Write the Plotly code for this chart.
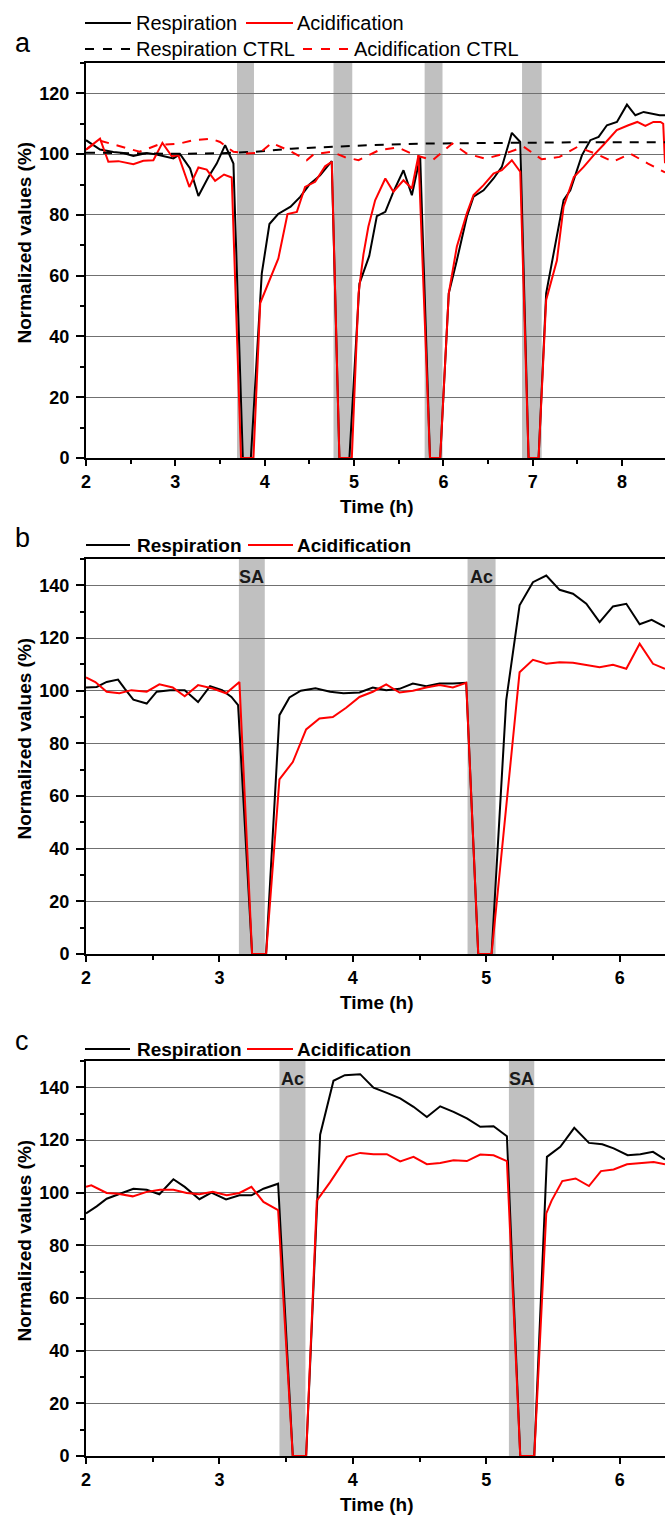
import plotly.graph_objects as go

W, H = 665, 1516
FONT = "Liberation Sans, Arial, sans-serif"

# ---------------- Panel a data ----------------
a_t_resp = [2.0, 2.157, 2.306, 2.418, 2.53, 2.68, 2.79, 2.9, 2.978, 3.053,
            3.165, 3.258, 3.37, 3.463, 3.557, 3.65, 3.755, 3.845, 3.967, 4.053,
            4.15, 4.29, 4.4, 4.5, 4.62, 4.75, 4.836, 4.948, 5.06, 5.17,
            5.255, 5.35, 5.44, 5.553, 5.647, 5.74, 5.85, 5.964, 6.06, 6.15,
            6.262, 6.337, 6.449, 6.561, 6.654, 6.766, 6.86, 6.953, 7.065, 7.15,
            7.27, 7.345, 7.42, 7.494, 7.55, 7.644, 7.737, 7.83, 7.942, 8.054,
            8.148, 8.241, 8.334, 8.42, 8.48]
a_resp = [104.6, 101.5, 100.7, 100.4, 99.4, 100.4, 99.9, 99.1, 98.6, 100.0,
          95.3, 86.2, 92.5, 96.9, 103.0, 96.9, 0, 0, 60.7, 77.0,
          80.3, 82.7, 86.0, 90.0, 93.0, 97.7, 0, 0, 57.4, 66.5,
          79.6, 81.0, 87.6, 94.7, 86.5, 99.2, 0, 0, 54.2, 65.0,
          79.4, 86.0, 88.1, 92.0, 95.8, 107.0, 104.0, 0, 0, 54.2,
          73.9, 84.9, 88.1, 94.7, 99.6, 104.6, 105.7, 109.5, 110.6, 116.3,
          112.8, 113.9, 113.4, 112.8, 112.8]
a_t_acid = [2.0, 2.157, 2.25, 2.362, 2.53, 2.642, 2.754, 2.855, 2.96, 3.034,
            3.157, 3.258, 3.351, 3.445, 3.545, 3.631, 3.735, 3.874, 3.95, 4.153,
            4.255, 4.36, 4.452, 4.565, 4.676, 4.751, 4.836, 4.975, 5.05, 5.105,
            5.16, 5.236, 5.35, 5.44, 5.553, 5.647, 5.721, 5.85, 5.964, 6.06,
            6.15, 6.262, 6.337, 6.449, 6.561, 6.654, 6.766, 6.86, 6.953, 7.065,
            7.15, 7.27, 7.345, 7.46, 7.57, 7.68, 7.79, 7.94, 8.07, 8.17,
            8.26, 8.35, 8.43, 8.46, 8.48]
a_acid = [101.5, 105.1, 97.5, 97.7, 96.7, 97.8, 98.0, 103.7, 99.3, 99.6,
          89.2, 95.6, 94.9, 91.2, 93.3, 92.3, 0, 0, 51.0, 65.7,
          80.3, 81.0, 89.2, 90.9, 96.0, 97.5, 0, 0, 54.1, 67.0,
          76.1, 84.8, 92.0, 87.6, 91.4, 88.7, 99.6, 0, 0, 54.2,
          69.5, 80.5, 86.5, 89.8, 93.6, 94.7, 98.0, 94.2, 0, 0,
          52.0, 65.0, 82.7, 92.5, 95.8, 99.6, 103.0, 107.9, 109.5, 110.6,
          109.3, 110.6, 110.6, 110.0, 97.0]
a_t_rctrl = [2.0, 2.5, 3.0, 3.5, 3.9, 4.3, 4.75, 5.2, 5.8, 6.5, 7.5, 8.48]
a_rctrl = [100.5, 100.2, 100.1, 100.3, 100.8, 101.8, 102.4, 103.0, 103.5, 103.7, 103.9, 103.9]
a_t_actrl = [2.0, 2.15, 2.27, 2.49, 2.6, 2.8, 3.05, 3.2, 3.4, 3.5,
             3.65, 3.8, 3.95, 4.08, 4.3, 4.47, 4.55, 4.75, 4.9, 5.05,
             5.28, 5.49, 5.69, 5.88, 6.1, 6.26, 6.47, 6.69, 6.9, 7.1,
             7.3, 7.5, 7.7, 7.9, 8.09, 8.29, 8.48]
a_actrl = [101.5, 104.5, 103.5, 101.8, 100.8, 103.0, 103.5, 104.6, 105.1, 104.0,
           100.8, 100.2, 100.5, 103.7, 100.8, 98.0, 100.0, 100.8, 99.0, 98.0,
           101.3, 102.2, 99.6, 98.0, 103.5, 100.2, 98.5, 100.2, 102.4, 98.3,
           99.1, 102.4, 100.2, 97.5, 100.2, 96.9, 94.0]
a_band_start = [3.69, 4.77, 5.79, 6.88]
a_band_end = [3.88, 4.98, 5.99, 7.10]

# ---------------- Panel b data ----------------
b_t_resp = [2.0, 2.08, 2.155, 2.24, 2.29, 2.355, 2.455, 2.53, 2.63, 2.74,
            2.84, 2.93, 3.02, 3.09, 3.14, 3.245, 3.35, 3.45, 3.525, 3.61,
            3.72, 3.83, 3.93, 4.05, 4.15, 4.25, 4.35, 4.45, 4.55, 4.65,
            4.75, 4.85, 4.94, 5.04, 5.15, 5.25, 5.35, 5.45, 5.55, 5.65,
            5.75, 5.85, 5.95, 6.05, 6.15, 6.24, 6.34]
b_resp = [101.2, 101.4, 103.3, 104.2, 100.8, 96.6, 95.1, 99.6, 100.2, 100.2,
          95.7, 101.7, 100.2, 97.6, 94.5, 0, 0, 90.7, 97.4, 100.0,
          100.9, 99.6, 99.0, 99.3, 101.2, 100.2, 100.7, 102.7, 101.7, 102.7,
          102.7, 103.0, 0, 0, 96.4, 132.4, 141.2, 143.7, 138.3, 136.8,
          133.0, 126.0, 132.0, 133.0, 125.2, 126.9, 124.2]
b_t_acid = [2.0, 2.07, 2.155, 2.25, 2.34, 2.455, 2.55, 2.65, 2.74, 2.84,
            2.95, 3.05, 3.15, 3.245, 3.35, 3.45, 3.55, 3.65, 3.75, 3.85,
            3.95, 4.05, 4.15, 4.25, 4.35, 4.45, 4.55, 4.65, 4.75, 4.85,
            4.94, 5.04, 5.25, 5.35, 5.45, 5.55, 5.65, 5.75, 5.85, 5.95,
            6.05, 6.15, 6.25, 6.34]
b_acid = [105.0, 103.3, 99.6, 99.0, 100.2, 99.6, 102.4, 101.2, 97.9, 102.1,
          100.8, 99.0, 103.3, 0, 0, 66.3, 72.9, 85.3, 89.4, 90.0,
          93.5, 97.6, 99.6, 102.4, 99.3, 100.0, 101.2, 102.1, 101.2, 103.0,
          0, 0, 107.0, 111.7, 110.2, 110.8, 110.6, 109.8, 108.9, 109.8,
          108.3, 117.8, 110.2, 108.3]
b_band_start = [3.146, 4.86]
b_band_end = [3.34, 5.07]
b_band_labels = ["SA", "Ac"]

# ---------------- Panel c data ----------------
c_t_resp = [2.0, 2.08, 2.155, 2.255, 2.355, 2.455, 2.55, 2.655, 2.74, 2.85,
            2.94, 3.05, 3.15, 3.24, 3.33, 3.44, 3.55, 3.65, 3.755, 3.855,
            3.94, 4.055, 4.155, 4.255, 4.355, 4.455, 4.555, 4.655, 4.755, 4.855,
            4.955, 5.055, 5.155, 5.255, 5.36, 5.455, 5.555, 5.66, 5.77, 5.87,
            5.955, 6.06, 6.155, 6.25, 6.34]
c_resp = [92.1, 94.8, 97.7, 99.6, 101.5, 101.1, 99.4, 105.1, 102.2, 97.5,
          100.0, 97.4, 99.0, 99.0, 101.5, 103.4, 0, 0, 122.0, 142.5,
          144.6, 145.0, 139.9, 137.9, 135.8, 132.6, 128.7, 132.8, 130.7, 128.2,
          125.0, 125.2, 121.4, 0, 0, 113.6, 117.4, 124.6, 118.9, 118.4,
          116.8, 114.2, 114.6, 115.5, 112.6]
c_t_acid = [2.0, 2.04, 2.155, 2.24, 2.35, 2.455, 2.555, 2.655, 2.755, 2.85,
            2.95, 3.055, 3.15, 3.24, 3.33, 3.44, 3.55, 3.65, 3.73, 3.83,
            3.955, 4.055, 4.155, 4.255, 4.355, 4.455, 4.555, 4.655, 4.755, 4.855,
            4.955, 5.055, 5.155, 5.255, 5.36, 5.45, 5.49, 5.57, 5.67, 5.77,
            5.86, 5.955, 6.055, 6.155, 6.255, 6.34]
c_acid = [102.2, 102.8, 99.9, 99.6, 98.6, 100.3, 101.1, 101.1, 99.9, 99.4,
          100.3, 99.0, 99.9, 102.2, 96.5, 93.4, 0, 0, 97.0, 104.0,
          113.6, 115.1, 114.6, 114.6, 111.9, 113.6, 110.8, 111.3, 112.3, 112.0,
          114.5, 114.2, 112.0, 0, 0, 92.1, 97.0, 104.4, 105.4, 102.5,
          108.2, 108.8, 110.8, 111.1, 111.6, 110.8]
c_band_start = [3.45, 5.17]
c_band_end = [3.645, 5.36]
c_band_labels = ["Ac", "SA"]

# ---------------- Text ----------------
series_names = ["Respiration", "Acidification", "Respiration CTRL", "Acidification CTRL"]
panel_letters = ["a", "b", "c"]
x_title = "Time (h)"
y_title = "Normalized values (%)"

BLACK = "#000000"
RED = "#ff0000"
BAND = "#c0c0c0"
GRID = "#707070"


def fx(p):
    return p / W


def fy(p):
    return 1 - p / H


panels = [
    dict(top=63, bottom=458, xmax=8.48, ymax=130,
         series=[(a_t_resp, a_resp, BLACK, "solid", series_names[0]),
                 (a_t_acid, a_acid, RED, "solid", series_names[1]),
                 (a_t_rctrl, a_rctrl, BLACK, "9px,8px", series_names[2]),
                 (a_t_actrl, a_actrl, RED, "9px,8px", series_names[3])],
         bands=list(zip(a_band_start, a_band_end)), band_labels=None),
    dict(top=559, bottom=954, xmax=6.34, ymax=150,
         series=[(b_t_resp, b_resp, BLACK, "solid", series_names[0]),
                 (b_t_acid, b_acid, RED, "solid", series_names[1])],
         bands=list(zip(b_band_start, b_band_end)), band_labels=b_band_labels),
    dict(top=1061, bottom=1456, xmax=6.34, ymax=150,
         series=[(c_t_resp, c_resp, BLACK, "solid", series_names[0]),
                 (c_t_acid, c_acid, RED, "solid", series_names[1])],
         bands=list(zip(c_band_start, c_band_end)), band_labels=c_band_labels),
]

fig = go.Figure()
layout = dict(template="none", width=W, height=H,
              margin=dict(l=0, r=0, t=0, b=0, pad=0, autoexpand=False),
              paper_bgcolor="white", plot_bgcolor="white", showlegend=False,
              font=dict(family=FONT, color="black"))
shapes = []
annotations = []

tickfont = dict(family=FONT, size=18, color="black", weight="bold")

for i, p in enumerate(panels):
    sfx = "" if i == 0 else str(i + 1)
    xa, ya = "x" + sfx, "y" + sfx
    layout["xaxis" + sfx] = dict(
        domain=[fx(86), 1.0], range=[2, p["xmax"]], anchor=ya, automargin=False,
        tick0=2, dtick=1, ticks="outside", ticklen=6, tickwidth=2, tickcolor="black",
        showline=True, linecolor="black", linewidth=2, mirror=True,
        showgrid=False, zeroline=False, tickfont=tickfont,
        minor=dict(dtick=0.5, ticks="outside", ticklen=4, tickwidth=1.5,
                   tickcolor="black", showgrid=False),
    )
    layout["yaxis" + sfx] = dict(
        domain=[fy(p["bottom"]), fy(p["top"])], range=[0, p["ymax"]], anchor=xa,
        automargin=False,
        tick0=0, dtick=20, ticks="outside", ticklen=8, tickwidth=2, tickcolor="black",
        showline=True, linecolor="black", linewidth=2, mirror=False,
        showgrid=True, gridcolor=GRID, gridwidth=1, zeroline=False,
        tickfont=tickfont, ticklabelstandoff=3,
        minor=dict(dtick=10, ticks="outside", ticklen=4, tickwidth=1.5,
                   tickcolor="black", showgrid=False),
    )
    for (t, v, col, dash, name) in p["series"]:
        assert len(t) == len(v), name
        fig.add_trace(go.Scatter(x=t, y=v, mode="lines", name=name,
                                 line=dict(color=col, width=2, dash=dash),
                                 xaxis=xa, yaxis=ya, showlegend=False))
    for j, (x0, x1) in enumerate(p["bands"]):
        shapes.append(dict(type="rect", xref=xa, yref=ya + " domain",
                           x0=x0, x1=x1, y0=0, y1=1, fillcolor=BAND,
                           line=dict(width=0), layer="below"))
        if p["band_labels"]:
            annotations.append(dict(text=p["band_labels"][j], xref=xa, yref=ya,
                                    x=(x0 + x1) / 2, y=143, showarrow=False,
                                    xanchor="center", yanchor="middle",
                                    font=dict(family=FONT, size=18, color="#1a1a1a",
                                              weight="bold")))
    # axis titles
    annotations.append(dict(text=x_title, xref="paper", yref="paper",
                            x=fx(377), y=fy(p["bottom"] + 48), showarrow=False,
                            xanchor="center", yanchor="middle",
                            font=dict(family=FONT, size=19, color="black", weight="bold")))
    annotations.append(dict(text=y_title, xref="paper", yref="paper",
                            x=fx(24), y=fy((p["top"] + p["bottom"]) / 2 - 18),
                            showarrow=False, textangle=-90,
                            xanchor="center", yanchor="middle",
                            font=dict(family=FONT, size=19, color="black", weight="bold")))
    # panel letter
    letter_y = [43, 538, 1041][i]
    annotations.append(dict(text=panel_letters[i], xref="paper", yref="paper",
                            x=fx(13), y=fy(letter_y), showarrow=False,
                            xanchor="left", yanchor="middle",
                            font=dict(family=FONT, size=27, color="black")))

# ---------------- legends (keys drawn as short lines) ----------------
legend_rows = [
    (23, [(85, 131, BLACK, "solid", 134, series_names[0], "normal"),
          (246, 293, RED, "solid", 295, series_names[1], "normal")]),
    (49, [(85, 131, BLACK, "dash", 134, series_names[2], "normal"),
          (303, 350, RED, "dash", 352, series_names[3], "normal")]),
    (545, [(86, 130, BLACK, "solid", 135, series_names[0], "bold"),
           (248, 293, RED, "solid", 295, series_names[1], "bold")]),
    (1049, [(85, 130, BLACK, "solid", 135, series_names[0], "bold"),
            (247, 293, RED, "solid", 295, series_names[1], "bold")]),
]
for y, items in legend_rows:
    for (x0, x1, col, dash, tx, label, wt) in items:
        shapes.append(dict(type="line", xref="paper", yref="paper",
                           x0=fx(x0), x1=fx(x1), y0=fy(y), y1=fy(y),
                           line=dict(color=col, width=2, dash=dash)))
        annotations.append(dict(text=label, xref="paper", yref="paper",
                                x=fx(tx), y=fy(y), showarrow=False,
                                xanchor="left", yanchor="middle",
                                font=dict(family=FONT, size=19 if wt == "bold" else 20,
                                          color="black", weight=wt)))

layout["shapes"] = shapes
layout["annotations"] = annotations
fig.update_layout(**layout)
fig.write_html(
    "out.html",
    config={"displayModeBar": False},
    post_script="document.body.style.margin='0';document.body.style.padding='0';"
                "document.body.style.overflow='hidden';",
)
